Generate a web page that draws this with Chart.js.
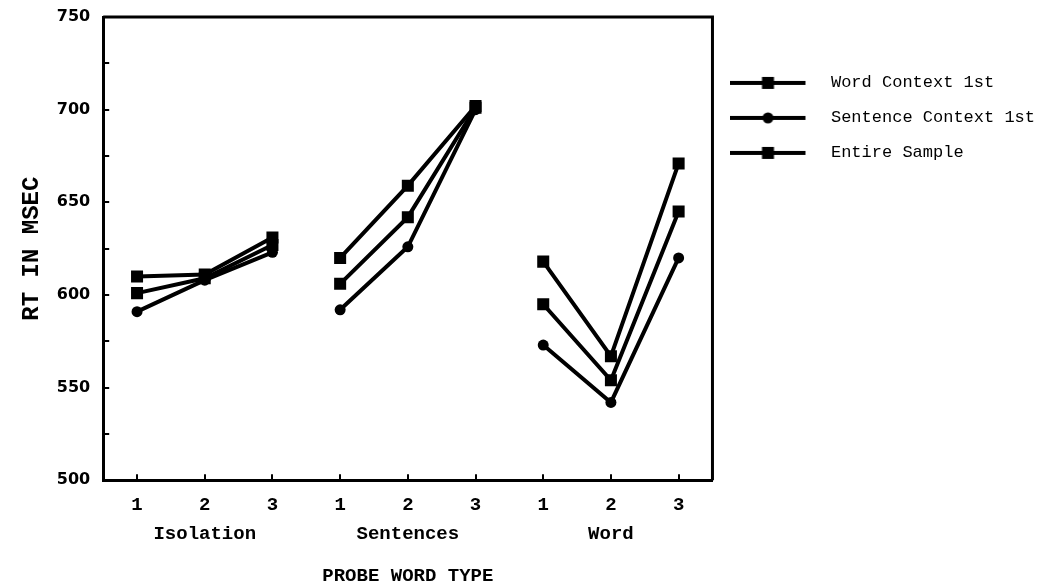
<!DOCTYPE html>
<html>
<head>
<meta charset="utf-8">
<script src="https://cdn.jsdelivr.net/npm/chart.js@4"></script>
<style>
  html, body { margin: 0; padding: 0; background: #fff; }
</style>
</head>
<body>
<canvas id="chart" width="1047" height="588"></canvas>
<script>
// Probe positions within each sentence-type group
const probeNumbers = ['1', '2', '3'];
const probeGroups = ['Isolation', 'Sentences', 'Word'];
const yLabels = [500, 550, 600, 650, 700, 750];

// Mean RT (msec), three probes per group: Isolation, Sentences, Word
const wordContextFirst = [610, 611, 631, 620, 659, 702, 618, 567, 671];
const sentenceContextFirst = [591, 608, 623, 592, 626, 700, 573, 542, 620];
const entireSample = [601, 609, 627, 606, 642, 701, 595, 554, 645];

const seriesNames = ['Word Context 1st', 'Sentence Context 1st', 'Entire Sample'];
const seriesMarkers = ['rect', 'circle', 'rect'];

// two-line tick labels: probe number, group name under the middle one
const labels = [];
probeGroups.forEach(g => {
  probeNumbers.forEach(n => labels.push([n, n === '2' ? g : '']));
});

const INK = '#000';

// no line between the last probe of one group and the first of the next
const groupBreak = ctx => (ctx.p0DataIndex % 3 === 2 ? 'rgba(0,0,0,0)' : INK);

function makeDataset(name, values, marker) {
  return {
    label: name,
    data: values,
    borderColor: INK,
    backgroundColor: INK,
    borderWidth: 4,
    pointStyle: marker,
    pointRadius: marker === 'rect' ? 8.5 : 5.5,
    pointBorderWidth: 0,
    pointBackgroundColor: INK,
    tension: 0,
    segment: { borderColor: groupBreak }
  };
}

// legend swatch: short line with the marker in the middle
function legendSwatch(marker) {
  const c = document.createElement('canvas');
  c.width = 92;
  c.height = 16;
  const g = c.getContext('2d');
  g.strokeStyle = INK;
  g.fillStyle = INK;
  g.lineWidth = 4;
  g.beginPath();
  g.moveTo(0, 8);
  g.lineTo(75, 8);
  g.stroke();
  if (marker === 'rect') {
    g.fillRect(31.5, 2, 12, 12);
  } else {
    g.beginPath();
    g.arc(37.5, 8, 5.5, 0, Math.PI * 2);
    g.fill();
  }
  return c;
}

// top and right sides of the plot box
const frame = {
  id: 'frame',
  afterDraw(chart) {
    const { ctx, chartArea: a } = chart;
    ctx.save();
    ctx.strokeStyle = INK;
    ctx.lineWidth = 3;
    ctx.beginPath();
    ctx.moveTo(a.left, a.top);
    ctx.lineTo(a.right, a.top);
    ctx.lineTo(a.right, a.bottom);
    ctx.stroke();
    ctx.restore();
  }
};

const axisGrid = { drawOnChartArea: false, tickLength: -6, color: INK, lineWidth: 2 };
const axisBorder = { color: INK, width: 3 };

new Chart(document.getElementById('chart'), {
  type: 'line',
  data: {
    labels: labels,
    datasets: [
      makeDataset(seriesNames[0], wordContextFirst, seriesMarkers[0]),
      makeDataset(seriesNames[1], sentenceContextFirst, seriesMarkers[1]),
      makeDataset(seriesNames[2], entireSample, seriesMarkers[2])
    ]
  },
  options: {
    responsive: false,
    animation: false,
    layout: { padding: { top: 0, right: 2, left: 18, bottom: 0 } },
    plugins: {
      tooltip: { enabled: false },
      legend: {
        position: 'right',
        align: 'start',
        maxWidth: 400,
        title: { display: true, text: ' ', font: { size: 12 }, padding: { top: 0, bottom: 42 } },
        labels: {
          usePointStyle: true,
          pointStyleWidth: 92,
          padding: 18,
          color: INK,
          font: { family: 'Liberation Mono', size: 17 },
          generateLabels: chart => chart.data.datasets.map((ds, i) => ({
            text: ds.label,
            fontColor: INK,
            pointStyle: legendSwatch(seriesMarkers[i]),
            fillStyle: INK,
            strokeStyle: INK,
            lineWidth: 0,
            hidden: false,
            datasetIndex: i
          }))
        }
      }
    },
    scales: {
      x: {
        type: 'category',
        offset: true,
        grid: axisGrid,
        border: axisBorder,
        ticks: {
          color: INK,
          autoSkip: false,
          maxRotation: 0,
          padding: 16,
          font: { family: 'Liberation Mono', size: 19, weight: 'bold', lineHeight: 1.55 }
        },
        title: {
          display: true,
          text: 'PROBE WORD TYPE',
          color: INK,
          padding: { top: 0, bottom: 0 },
          font: { family: 'Liberation Mono', size: 19, weight: 'bold' }
        }
      },
      y: {
        min: 500,
        max: 750,
        grid: axisGrid,
        border: axisBorder,
        // keep the plot top close to the 750 label
        afterFit: scale => { scale.paddingTop = 17; },
        ticks: {
          stepSize: 25,
          color: INK,
          padding: 19,
          callback: v => (yLabels.includes(v) ? v : ''),
          font: { family: 'DejaVu Sans', size: 16, weight: 'bold' }
        },
        title: {
          display: true,
          text: 'RT IN MSEC',
          color: INK,
          padding: { top: 0, bottom: -9 },
          font: { family: 'Liberation Mono', size: 24, weight: 'bold' }
        }
      }
    }
  },
  plugins: [frame]
});
</script>
</body>
</html>
